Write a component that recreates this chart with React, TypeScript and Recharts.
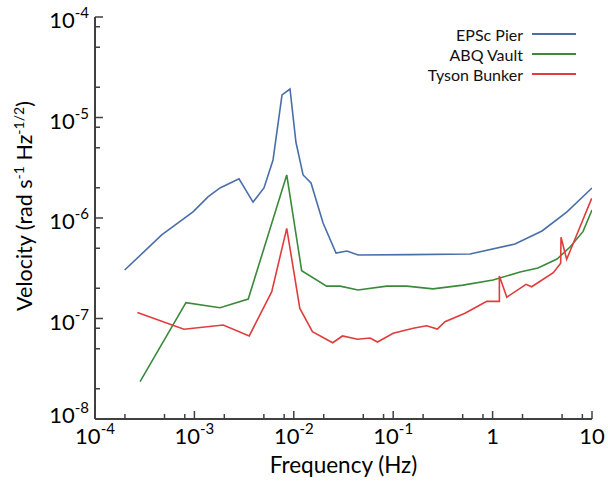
import React from 'react';
import { LineChart, Line, XAxis, YAxis, Legend } from 'recharts';

// values (frequency in Hz, velocity in rad s^-1 Hz^-1/2)
const pierFreq = [1.99e-4, 4.69e-4, 9.68e-4, 1.37e-3, 1.81e-3, 2.81e-3, 3.89e-3, 5.01e-3, 6.18e-3, 7.61e-3, 9.16e-3, 1.05e-2, 1.24e-2, 1.49e-2, 1.97e-2, 2.66e-2, 3.43e-2, 4.43e-2, 0.15, 0.593, 1.68, 3.14, 5.6, 10];
const pierVel = [3.04e-7, 6.78e-7, 1.15e-6, 1.62e-6, 1.99e-6, 2.45e-6, 1.44e-6, 1.99e-6, 3.78e-6, 1.68e-5, 1.92e-5, 5.7e-6, 2.68e-6, 2.23e-6, 8.91e-7, 4.48e-7, 4.7e-7, 4.29e-7, 4.32e-7, 4.38e-7, 5.51e-7, 7.43e-7, 1.15e-6, 1.99e-6];

const vaultFreq = [2.84e-4, 8.22e-4, 1.81e-3, 3.48e-3, 8.49e-3, 1.2e-2, 2.14e-2, 2.92e-2, 4.43e-2, 8.61e-2, 0.137, 0.251, 0.504, 1.01, 1.89, 2.86, 4.45, 6.01, 8.11, 10];
const vaultVel = [2.35e-8, 1.44e-7, 1.28e-7, 1.56e-7, 2.68e-6, 2.99e-7, 2.1e-7, 2.1e-7, 1.92e-7, 2.1e-7, 2.1e-7, 1.97e-7, 2.15e-7, 2.42e-7, 2.9e-7, 3.18e-7, 3.91e-7, 5.14e-7, 7.31e-7, 1.2e-6];

const bunkerFreq = [2.67e-4, 7.85e-4, 1.95e-3, 3.56e-3, 6.0e-3, 8.49e-3, 1.15e-2, 1.54e-2, 2.46e-2, 3.09e-2, 4.38e-2, 5.85e-2, 6.95e-2, 0.1, 0.159, 0.217, 0.278, 0.332, 0.527, 0.747, 0.873, 1.17, 1.17, 1.39, 2.17, 2.47, 4.08, 4.84, 4.88, 5.56, 6.48, 9.93];
const bunkerVel = [1.15e-7, 7.82e-8, 8.61e-8, 6.7e-8, 1.85e-7, 7.89e-7, 1.26e-7, 7.39e-8, 5.74e-8, 6.7e-8, 6.22e-8, 6.4e-8, 5.83e-8, 7.13e-8, 8.0e-8, 8.47e-8, 7.84e-8, 9.29e-8, 1.13e-7, 1.36e-7, 1.48e-7, 1.48e-7, 2.65e-7, 1.63e-7, 2.19e-7, 2.07e-7, 2.86e-7, 3.54e-7, 6.43e-7, 3.88e-7, 5.6e-7, 1.57e-6];

const seriesNames = ['EPSc Pier', 'ABQ Vault', 'Tyson Bunker'];

// axis ticks: labelled decades plus unlabelled 2, 5, 8 marks
const xDecades = [1e-4, 1e-3, 1e-2, 1e-1, 1, 10];
const yDecades = [1e-8, 1e-7, 1e-6, 1e-5, 1e-4];
const minorSteps = [2, 5, 8];

const AXIS = '#404040';
const zip = (f: number[], v: number[]) => f.map((x, i) => ({ f: x, v: v[i] }));

const withMinors = (decades: number[]) => {
  const out: number[] = [];
  decades.forEach((d, i) => {
    out.push(d);
    if (i < decades.length - 1) minorSteps.forEach((m) => out.push(d * m));
  });
  return out;
};
const xTicks = withMinors(xDecades);
const yTicks = withMinors(yDecades);

const isMajor = (v: number) => Math.abs(Math.log10(v) - Math.round(Math.log10(v))) < 1e-6;

const Power = ({ v }: { v: number }) => {
  const e = Math.round(Math.log10(v));
  if (e === 0) return <>1</>;
  if (e === 1) return <>10</>;
  return (
    <>
      10<tspan dy={-10} fontSize={15}>{e}</tspan>
    </>
  );
};

const BottomTick = (p: any) => {
  const major = isMajor(p.payload.value);
  return (
    <g>
      <line x1={p.x} x2={p.x} y1={p.y} y2={p.y - (major ? 8 : 5)} stroke={AXIS} strokeWidth={1.5} />
      {major && (
        <text x={p.x} y={p.y + 25} textAnchor="middle" fontSize={22} fill="#000">
          <Power v={p.payload.value} />
        </text>
      )}
    </g>
  );
};

const TopTick = (p: any) => {
  const major = isMajor(p.payload.value);
  return <line x1={p.x} x2={p.x} y1={p.y} y2={p.y + (major ? 8 : 5)} stroke={AXIS} strokeWidth={1.5} />;
};

const LeftTick = (p: any) => {
  const major = isMajor(p.payload.value);
  const dy = p.payload.value === 1e-8 ? 4 : 11;
  return (
    <g>
      <line x1={p.x} x2={p.x + (major ? 8 : 5)} y1={p.y} y2={p.y} stroke={AXIS} strokeWidth={1.5} />
      {major && (
        <text x={p.x - 6} y={p.y + dy} textAnchor="end" fontSize={22} fill="#000">
          <Power v={p.payload.value} />
        </text>
      )}
    </g>
  );
};

const RightTick = (p: any) => {
  const major = isMajor(p.payload.value);
  return <line x1={p.x} x2={p.x - (major ? 8 : 4)} y1={p.y} y2={p.y} stroke={AXIS} strokeWidth={1.5} />;
};

const XTitle = ({ viewBox }: any) => (
  <text x={viewBox.x + viewBox.width / 2} y={viewBox.y + 54} textAnchor="middle" fontSize={22.5} fill="#000">
    Frequency (Hz)
  </text>
);

const YTitle = () => (
  <text x={32} y={206} transform="rotate(-90, 32, 206)" textAnchor="middle" fontSize={21.5} fill="#000">
    Velocity (rad s<tspan dy={-8} fontSize={14}>-1</tspan>
    <tspan dy={8}> Hz</tspan>
    <tspan dy={-8} fontSize={14}>-1/2</tspan>
    <tspan dy={8}>)</tspan>
  </text>
);

const LegendBox = ({ payload }: any) => {
  const items = [...(payload || [])].sort((a: any, b: any) => seriesNames.indexOf(a.value) - seriesNames.indexOf(b.value));
  return (
    <div style={{ display: 'flex', flexDirection: 'column', alignItems: 'flex-end' }}>
      {items.map((e: any) => (
        <div key={e.value} style={{ display: 'flex', alignItems: 'center', height: 20 }}>
          <span style={{ fontSize: 16, color: '#111' }}>{e.value}</span>
          <span style={{ width: 44, borderTop: `2px solid ${e.color}`, marginLeft: 9 }} />
        </div>
      ))}
    </div>
  );
};

export default function App() {
  const axisLine = { stroke: AXIS, strokeWidth: 2 };
  return (
    <div style={{ position: 'absolute', left: 0, top: 0, fontFamily: 'Lato, sans-serif', background: '#fff' }}>
      <LineChart width={608} height={481} margin={{ top: 17, right: 16, bottom: 0, left: 0 }}>
        <XAxis
          dataKey="f"
          type="number"
          scale="log"
          domain={[1e-4, 10]}
          allowDataOverflow
          ticks={xTicks}
          interval={0}
          height={62}
          tickSize={0}
          tickMargin={0}
          axisLine={axisLine}
          tick={BottomTick}
          label={<XTitle />}
        />
        <XAxis
          xAxisId="top"
          orientation="top"
          type="number"
          scale="log"
          domain={[1e-4, 10]}
          allowDataOverflow
          ticks={xTicks}
          interval={0}
          height={0}
          tickSize={0}
          tickMargin={0}
          axisLine={axisLine}
          tick={TopTick}
        />
        <YAxis
          type="number"
          scale="log"
          domain={[1e-8, 1e-4]}
          allowDataOverflow
          ticks={yTicks}
          interval={0}
          width={95}
          tickSize={0}
          tickMargin={0}
          axisLine={axisLine}
          tick={LeftTick}
          label={<YTitle />}
        />
        <YAxis
          yAxisId="right"
          orientation="right"
          type="number"
          scale="log"
          domain={[1e-8, 1e-4]}
          allowDataOverflow
          ticks={yTicks}
          interval={0}
          width={0}
          tickSize={0}
          tickMargin={0}
          axisLine={axisLine}
          tick={RightTick}
        />
        <Legend
          layout="vertical"
          align="center"
          verticalAlign="middle"
          content={<LegendBox />}
          wrapperStyle={{ top: 24, right: 32, left: 'auto', width: 'auto', height: 'auto' }}
        />
        <Line data={zip(pierFreq, pierVel)} dataKey="v" name={seriesNames[0]} stroke="#4a6fa8" strokeWidth={1.6} dot={false} isAnimationActive={false} />
        <Line data={zip(vaultFreq, vaultVel)} dataKey="v" name={seriesNames[1]} stroke="#3a8a3a" strokeWidth={1.6} dot={false} isAnimationActive={false} />
        <Line data={zip(bunkerFreq, bunkerVel)} dataKey="v" name={seriesNames[2]} stroke="#e03c3c" strokeWidth={1.6} dot={false} isAnimationActive={false} />
      </LineChart>
    </div>
  );
}
